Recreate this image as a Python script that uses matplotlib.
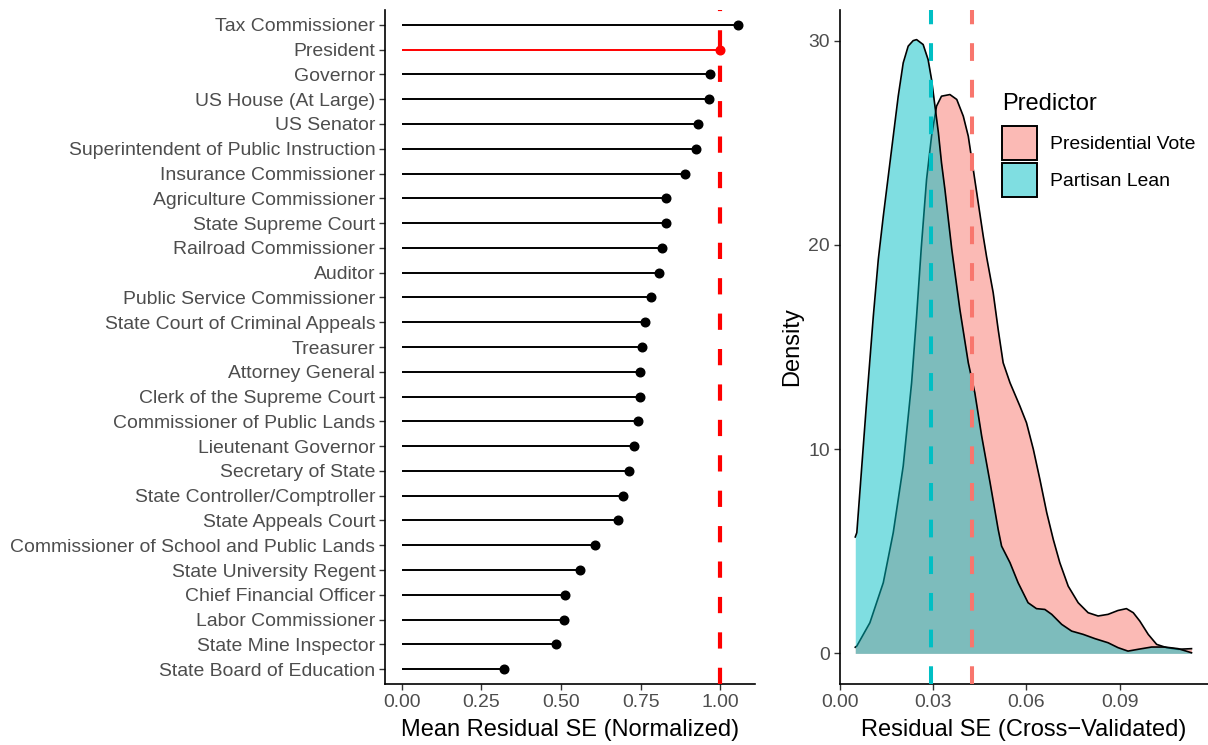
import numpy as np
import matplotlib
matplotlib.use('Agg')
import matplotlib.pyplot as plt
from matplotlib.patches import Patch
from matplotlib.colors import to_rgba

plt.rcParams['font.family'] = ['Liberation Sans', 'DejaVu Sans']

# left panel: offices, top to bottom
offices = ['Tax Commissioner', 'President', 'Governor', 'US House (At Large)', 'US Senator',
           'Superintendent of Public Instruction', 'Insurance Commissioner',
           'Agriculture Commissioner', 'State Supreme Court', 'Railroad Commissioner',
           'Auditor', 'Public Service Commissioner', 'State Court of Criminal Appeals',
           'Treasurer', 'Attorney General', 'Clerk of the Supreme Court',
           'Commissioner of Public Lands', 'Lieutenant Governor', 'Secretary of State',
           'State Controller/Comptroller', 'State Appeals Court',
           'Commissioner of School and Public Lands', 'State University Regent',
           'Chief Financial Officer', 'Labor Commissioner', 'State Mine Inspector',
           'State Board of Education']
mean_se = [1.056, 1.000, 0.969, 0.966, 0.931, 0.925, 0.890, 0.831, 0.828, 0.818,
           0.809, 0.781, 0.762, 0.755, 0.749, 0.749, 0.740, 0.730, 0.712, 0.696,
           0.680, 0.607, 0.560, 0.511, 0.509, 0.485, 0.320]
highlight = 'President'

# right panel: density curves
lean_x = [0.0050, 0.0055, 0.0071, 0.0087, 0.0108, 0.0124, 0.0140, 0.0156, 0.0172, 0.0188,
          0.0204, 0.0220, 0.0236, 0.0247, 0.0268, 0.0284, 0.0295, 0.0306, 0.0317, 0.0327,
          0.0338, 0.0349, 0.0360, 0.0386, 0.0413, 0.0434, 0.0456, 0.0483, 0.0509, 0.0520,
          0.0547, 0.0573, 0.0605, 0.0632, 0.0659, 0.0681, 0.0713, 0.0745, 0.0782, 0.0820,
          0.0862, 0.0894, 0.0926, 0.0959, 0.1002, 0.1044, 0.1087, 0.1130]
lean_y = [5.70, 5.91, 9.17, 12.43, 16.51, 19.29, 21.40, 23.36, 25.32, 27.28,
          28.91, 29.73, 30.00, 30.05, 29.81, 29.07, 28.10, 26.79, 25.49, 24.02,
          22.71, 21.24, 19.78, 16.84, 14.23, 12.76, 10.64, 8.36, 6.07, 5.25,
          4.44, 3.46, 2.48, 2.19, 2.15, 1.91, 1.42, 1.09, 0.93, 0.72,
          0.52, 0.28, 0.11, 0.20, 0.31, 0.31, 0.23, 0.03]

pres_x = [0.0050, 0.0055, 0.0097, 0.0140, 0.0172, 0.0204, 0.0231, 0.0247, 0.0262, 0.0279,
          0.0295, 0.0311, 0.0327, 0.0354, 0.0376, 0.0397, 0.0413, 0.0429, 0.0445, 0.0461,
          0.0472, 0.0493, 0.0509, 0.0525, 0.0547, 0.0579, 0.0600, 0.0622, 0.0643, 0.0665,
          0.0686, 0.0707, 0.0734, 0.0766, 0.0798, 0.0830, 0.0862, 0.0894, 0.0921, 0.0943,
          0.0964, 0.0991, 0.1018, 0.1050, 0.1087, 0.1130]
pres_y = [0.30, 0.36, 1.50, 3.46, 5.91, 9.17, 13.25, 16.51, 19.85, 23.20,
          25.32, 26.79, 27.28, 27.36, 27.12, 26.30, 25.32, 23.69, 22.06, 20.43,
          19.40, 17.66, 15.86, 14.23, 13.25, 12.10, 11.29, 9.99, 8.52, 6.89,
          5.58, 4.44, 3.29, 2.48, 1.99, 1.83, 1.91, 2.10, 2.19, 1.99,
          1.58, 0.93, 0.44, 0.28, 0.20, 0.23]

predictors = ['Presidential Vote', 'Partisan Lean']
pred_colors = ['#F8766D', '#00BFC4']
pred_means = [0.0426, 0.0294]

TICK_COL = '#4D4D4D'
FS_TICK = 13.95
FS_TITLE = 17.0

fig = plt.figure(figsize=(12.08, 7.45), dpi=100)
ax1 = fig.add_axes([385 / 1208, 61 / 745, 370 / 1208, 674 / 745])
ax2 = fig.add_axes([839.7 / 1208, 61 / 745, 368.3 / 1208, 674 / 745])

# ---- left: lollipops
n = len(offices)
ypos = np.arange(n)[::-1]
for yy, val, name in zip(ypos, mean_se, offices):
    c = 'red' if name == highlight else 'black'
    ax1.plot([0, val], [yy, yy], color=c, lw=1.4, solid_capstyle='butt', zorder=2)
    ax1.plot(val, yy, 'o', color=c, ms=6.2, mec=c, zorder=3)
ax1.axvline(1.0, color='red', lw=3.0, dashes=(3.9, 4.6), zorder=4)
ax1.set_xlim(-0.053, 1.109)
ax1.set_ylim(-0.6, n - 0.4)
ax1.set_yticks(ypos)
ax1.set_yticklabels(offices)
ax1.set_xticks([0, 0.25, 0.5, 0.75, 1.0])
ax1.set_xticklabels(['0.00', '0.25', '0.50', '0.75', '1.00'])
ax1.set_xlabel('Mean Residual SE (Normalized)', fontsize=FS_TITLE, labelpad=6)

# ---- right: densities
for xs, ys, col in [(pres_x, pres_y, pred_colors[0]), (lean_x, lean_y, pred_colors[1])]:
    ax2.fill_between(xs, 0, ys, color=col, alpha=0.5, lw=0, zorder=2)
    ax2.plot(xs, ys, color='black', lw=1.2, solid_joinstyle='round', zorder=2)
for m, col in zip(pred_means, pred_colors):
    ax2.axvline(m, color=col, lw=2.9, dashes=(4.4, 4.7), zorder=4)
ax2.set_xlim(0, 0.1183)
ax2.set_ylim(-1.5, 31.5)
ax2.set_xticks([0, 0.03, 0.06, 0.09])
ax2.set_xticklabels(['0.00', '0.03', '0.06', '0.09'])
ax2.set_yticks([0, 10, 20, 30])
ax2.set_xlabel('Residual SE (Cross\u2212Validated)', fontsize=FS_TITLE, labelpad=6)
ax2.set_ylabel('Density', fontsize=FS_TITLE, labelpad=4)

handles = [Patch(facecolor=to_rgba(c, 0.5), edgecolor='black', lw=1.4) for c in pred_colors]
ax2.legend(handles, predictors, loc='upper left', bbox_to_anchor=(0.4407, 0.8279),
           frameon=False, fontsize=FS_TICK, borderpad=0, borderaxespad=0,
           handlelength=1.8, handleheight=2.31, labelspacing=0.15, handletextpad=0.68)
ax2.text(0.4407, 0.8605, 'Predictor', transform=ax2.transAxes, fontsize=FS_TITLE,
         ha='left', va='center')

for ax in (ax1, ax2):
    for s in ('top', 'right'):
        ax.spines[s].set_visible(False)
    for s in ('left', 'bottom'):
        ax.spines[s].set_linewidth(1.2)
    ax.tick_params(axis='both', labelsize=FS_TICK, labelcolor=TICK_COL, color='#333333',
                   length=4, width=1.0, pad=3)

fig.savefig('out.png', dpi=100)
